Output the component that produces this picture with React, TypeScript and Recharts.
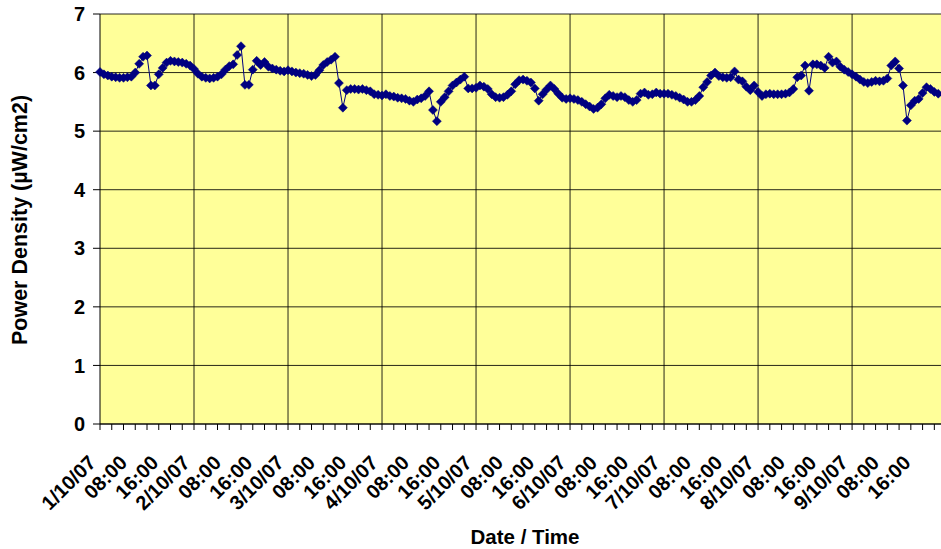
import { CartesianGrid, Label, Line, LineChart, ReferenceLine, XAxis, YAxis } from "recharts";

// hourly readings, one array per day (1/10/07 00:00 onwards)
const day1 = [6.01, 5.97, 5.95, 5.93, 5.92, 5.91, 5.91, 5.92, 5.93, 6.0, 6.15, 6.27, 6.29, 5.78, 5.78, 5.97, 6.08, 6.17, 6.2, 6.19, 6.18, 6.17, 6.15, 6.12];
const day2 = [6.06, 5.98, 5.93, 5.91, 5.9, 5.91, 5.93, 5.97, 6.05, 6.11, 6.14, 6.3, 6.45, 5.79, 5.79, 6.05, 6.2, 6.13, 6.18, 6.1, 6.07, 6.05, 6.03, 6.02];
const day3 = [6.04, 6.02, 6.0, 5.99, 5.98, 5.96, 5.94, 5.96, 6.04, 6.13, 6.18, 6.22, 6.27, 5.82, 5.4, 5.7, 5.72, 5.72, 5.71, 5.72, 5.7, 5.68, 5.63, 5.62];
const day4 = [5.61, 5.63, 5.6, 5.59, 5.57, 5.56, 5.55, 5.52, 5.5, 5.54, 5.56, 5.6, 5.68, 5.36, 5.17, 5.5, 5.58, 5.68, 5.78, 5.83, 5.88, 5.93, 5.73, 5.73];
const day5 = [5.74, 5.78, 5.76, 5.72, 5.63, 5.58, 5.57, 5.58, 5.62, 5.68, 5.8, 5.87, 5.88, 5.86, 5.83, 5.73, 5.52, 5.63, 5.71, 5.78, 5.72, 5.64, 5.57, 5.55];
const day6 = [5.56, 5.55, 5.53, 5.5, 5.46, 5.42, 5.38, 5.4, 5.46, 5.56, 5.62, 5.6, 5.58, 5.6, 5.58, 5.53, 5.5, 5.53, 5.64, 5.66, 5.62, 5.63, 5.66, 5.64];
const day7 = [5.64, 5.64, 5.62, 5.6, 5.57, 5.54, 5.5, 5.5, 5.53, 5.6, 5.75, 5.84, 5.95, 6.0, 5.94, 5.92, 5.91, 5.92, 6.02, 5.88, 5.85, 5.76, 5.7, 5.78];
const day8 = [5.67, 5.6, 5.63, 5.64, 5.63, 5.63, 5.63, 5.64, 5.66, 5.72, 5.92, 5.95, 6.12, 5.69, 6.14, 6.14, 6.12, 6.08, 6.27, 6.17, 6.19, 6.1, 6.05, 6.01];
const day9 = [5.97, 5.93, 5.88, 5.84, 5.82, 5.84, 5.86, 5.85, 5.86, 5.9, 6.12, 6.19, 6.07, 5.78, 5.18, 5.44, 5.52, 5.55, 5.65, 5.75, 5.72, 5.67, 5.64];

const dayLabels = ["1/10/07", "2/10/07", "3/10/07", "4/10/07", "5/10/07", "6/10/07", "7/10/07", "8/10/07", "9/10/07"];
const hourLabels: Record<number, string> = { 8: "08:00", 16: "16:00" };
const yTicks = [0, 1, 2, 3, 4, 5, 6, 7];

const readings = [...day1, ...day2, ...day3, ...day4, ...day5, ...day6, ...day7, ...day8, ...day9];
const data = readings.map((v, i) => ({ hour: i, value: v }));

const lastHour = 214.7;
const xTicks: number[] = [];
for (let h = 0; h <= lastHour; h++) {
  if (h % 3 === 0 || h % 8 === 0) xTicks.push(h);
}
const dayLines = dayLabels.slice(1).map((_, i) => (i + 1) * 24);

const font = "'Liberation Sans', Arial, sans-serif";

function tickText(h: number) {
  const hh = h % 24;
  if (hh === 0) return dayLabels[h / 24];
  return hourLabels[hh];
}

function XTick(props: any) {
  const { x, y, payload } = props;
  const h = payload.value as number;
  const label = h % 8 === 0 ? tickText(h) : null;
  const tx = x - 3;
  const ty = y + 40;
  return (
    <g>
      {h % 3 === 0 && <line x1={x} y1={y} x2={x} y2={y + 6} stroke="#000" />}
      {label && (
        <text
          x={tx}
          y={ty}
          transform={`rotate(-45 ${tx} ${ty})`}
          textAnchor="end"
          fontFamily={font}
          fontWeight="bold"
          fontSize={20}
          fill="#000"
        >
          {label}
        </text>
      )}
    </g>
  );
}

function Diamond(props: any) {
  const { cx, cy, index } = props;
  if (cx == null || cy == null) return <g key={index} />;
  const r = 4.5;
  return (
    <polygon
      key={index}
      points={`${cx},${cy - r} ${cx + r},${cy} ${cx},${cy + r} ${cx - r},${cy}`}
      fill="#000080"
      stroke="#000080"
      strokeWidth={0.5}
    />
  );
}

export default function App() {
  return (
    <div style={{ position: "absolute", left: 0, top: 0, width: 941, height: 549, background: "#fff" }}>
      <LineChart width={941} height={549} data={data} margin={{ top: 14, right: 0, bottom: 0, left: 0 }}>
        <CartesianGrid vertical={false} stroke="#000" strokeOpacity={0.85} fill="#FFFF99" fillOpacity={1} />
        {dayLines.map((d) => (
          <ReferenceLine key={d} x={d} stroke="#000" strokeOpacity={0.85} />
        ))}
        <XAxis
          dataKey="hour"
          type="number"
          domain={[0, lastHour]}
          ticks={xTicks}
          interval={0}
          height={125}
          tickLine={false}
          tickSize={0}
          tickMargin={0}
          axisLine={{ stroke: "#000" }}
          tick={<XTick />}
        >
          <Label
            content={() => (
              <text x={525} y={544} textAnchor="middle" fontFamily={font} fontWeight="bold" fontSize={20.5} fill="#000">
                Date / Time
              </text>
            )}
          />
        </XAxis>
        <YAxis
          type="number"
          domain={[0, 7]}
          ticks={yTicks}
          width={100}
          tickSize={7}
          tickMargin={8}
          axisLine={{ stroke: "#000" }}
          tickLine={{ stroke: "#000" }}
          tick={{ fill: "#000", fontFamily: font, fontWeight: "bold", fontSize: 20 }}
        >
          <Label
            content={() => (
              <text
                x={27}
                y={220}
                transform="rotate(-90 27 220)"
                textAnchor="middle"
                fontFamily={font}
                fontWeight="bold"
                fontSize={21.5}
                fill="#000"
              >
                Power Density (µW/cm2)
              </text>
            )}
          />
        </YAxis>
        <Line
          type="linear"
          dataKey="value"
          stroke="#000080"
          strokeWidth={1}
          dot={(p: any) => <Diamond key={p.index} {...p} />}
          activeDot={false}
          isAnimationActive={false}
        />
      </LineChart>
    </div>
  );
}
